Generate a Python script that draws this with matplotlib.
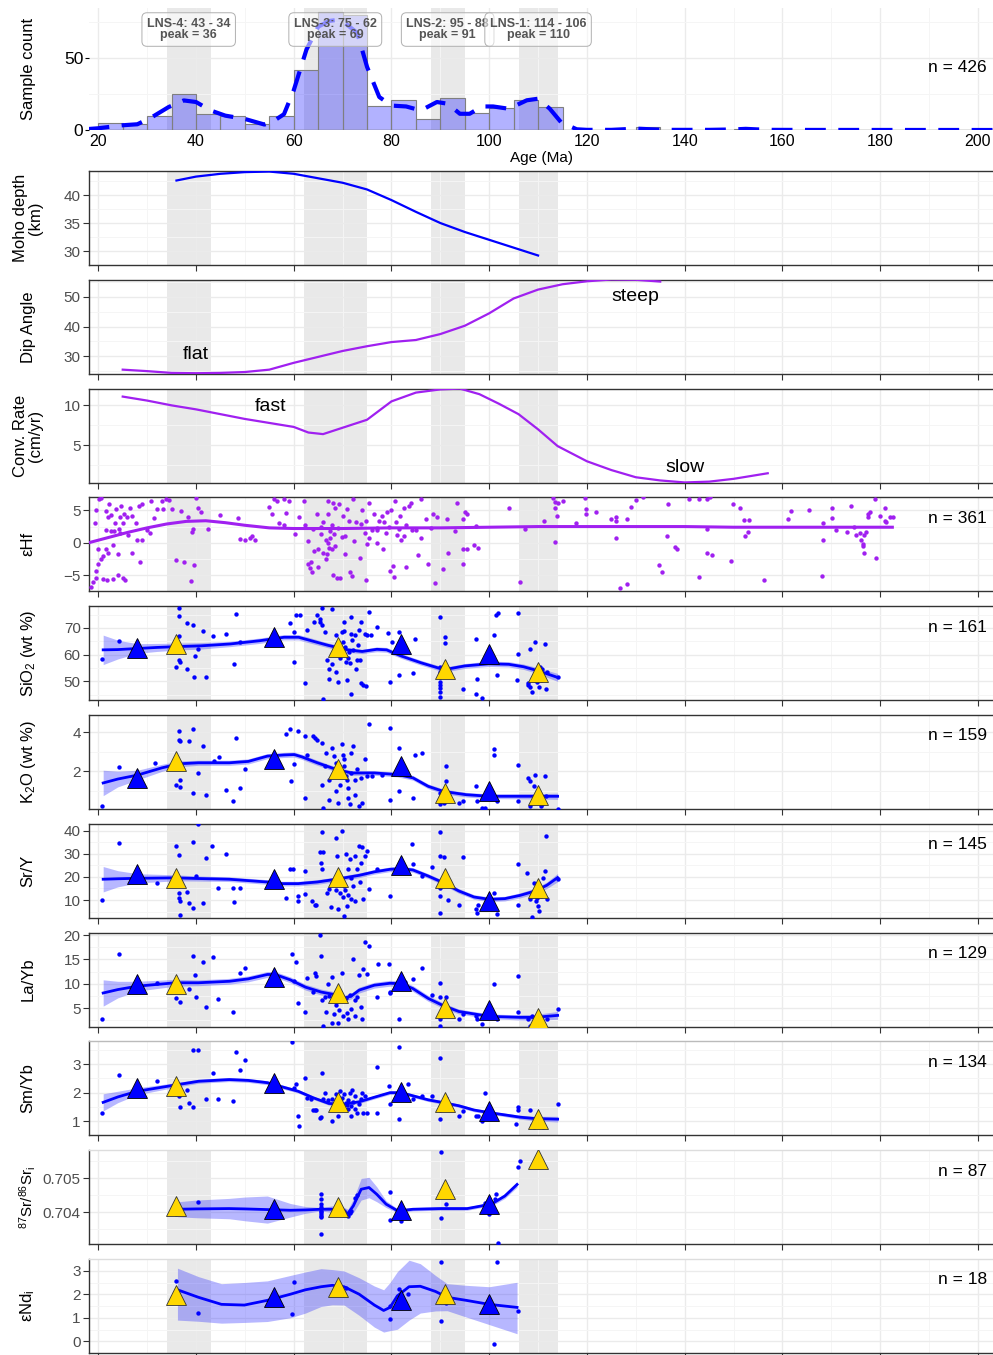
import matplotlib.pyplot as plt
import numpy as np

plt.rcParams['font.family'] = ['Liberation Sans', 'DejaVu Sans']
plt.rcParams['mathtext.fontset'] = 'custom'
plt.rcParams['mathtext.rm'] = 'Liberation Sans'
plt.rcParams['mathtext.it'] = 'Liberation Sans:italic'

# ---------------- data ----------------
bands = [(34, 43), (62, 75), (88, 95), (106, 114)]
band_text = ['LNS-4: 43 - 34\npeak = 36', 'LNS-3: 75 - 62\npeak = 69',
             'LNS-2: 95 - 88\npeak = 91', 'LNS-1: 114 - 106\npeak = 110']
band_text_x = [38.5, 68.5, 91.5, 110]

hist_left = [20, 25, 30, 35, 40, 45, 50, 55, 60, 65, 70, 75, 80, 85, 90, 95, 100, 105, 110, 130, 150]
hist_count = [5, 4, 10, 25, 11, 10, 4, 10, 42, 82, 80, 17, 21, 8, 22, 12, 15, 21, 16, 2, 1]
dens_x = [18, 20, 25, 28, 31, 34.4, 37.5, 40, 43, 46, 50, 54, 55.5, 58, 60, 62.6, 65, 67.3, 69.6, 73, 75, 77.5,
          80, 83, 86, 89.3, 91.5, 94, 96, 98.5, 100.8, 104, 107.7, 110, 112.4, 114.7, 117.9, 120, 125, 128,
          130.5, 133, 136, 145, 150, 152.5, 155, 158, 165, 203]
dens_y = [0.7, 1.2, 3.3, 4, 9, 16, 20.6, 19.5, 13.6, 10, 7.7, 3.8, 5.4, 11, 27.7, 56, 72, 76, 77, 67.6, 44, 23,
          17, 16.4, 13.6, 19.5, 18.3, 11.3, 11.3, 16.4, 16.4, 14.8, 20.7, 21.8, 14.8, 5.4, 0.5, 0.1, 0.1, 0.6,
          0.9, 0.5, 0.1, 0.1, 0.4, 0.8, 0.4, 0.1, 0.05, 0]

moho_x = [36, 40, 45, 50, 55, 60, 65, 70, 75, 80, 85, 90, 95, 100, 105, 110]
moho_y = [42.6, 43.3, 43.8, 44.1, 44.2, 43.8, 43.0, 42.2, 41.0, 39.1, 37.0, 35.0, 33.4, 32.0, 30.6, 29.2]

dip_x = [25, 30, 35, 40, 45, 50, 55, 60, 65, 70, 75, 80, 85, 90, 95, 100, 105, 110, 115, 120, 125, 130, 135]
dip_y = [25.5, 25.0, 24.4, 24.3, 24.4, 24.7, 25.5, 27.8, 29.8, 31.8, 33.4, 34.8, 35.5, 37.5, 40.3, 44.5,
         49.5, 52.5, 54.3, 55.3, 55.9, 55.8, 55.2]

conv_x = [25, 30, 35, 40, 45, 50, 55, 60, 63, 66, 70, 75, 80, 85, 90, 94, 98, 102, 106, 110, 114, 120, 125,
          130, 135, 140, 145, 150, 157]
conv_y = [11.1, 10.6, 10.0, 9.5, 8.9, 8.3, 7.8, 7.3, 6.6, 6.4, 7.2, 8.2, 10.5, 11.6, 12.0, 12.1, 11.4, 10.2,
          8.9, 7.0, 4.9, 3.0, 1.9, 1.0, 0.6, 0.35, 0.45, 0.8, 1.5]

hf_fit_x = [18, 22, 26, 30, 34, 38, 42, 46, 50, 55, 60, 70, 80, 90, 100, 110, 120, 130, 140, 150, 160, 170, 182.5]
hf_fit_y = [0.0, 0.8, 1.6, 2.3, 2.9, 3.3, 3.4, 3.1, 2.7, 2.3, 2.2, 2.2, 2.3, 2.3, 2.4, 2.5, 2.5, 2.5, 2.5, 2.4,
            2.4, 2.4, 2.4]
hf_pts = [(18.5, -6.8), (19, -6), (19.5, -5.5), (19.5, -4.3), (19.5, 5), (19.3, 3), (20, -1), (20, -3.3),
          (20.2, 6.8), (20.5, 6.9), (20.5, -2.5), (21, -5.6), (21, -2), (21.5, -1), (21.5, 2), (21.5, 4.9),
          (21.7, -5.7), (22, -1.5), (22, 3.9), (22.2, 6.0), (22.5, 1.8), (22.7, 4.3), (23, -0.4), (23, -5.6),
          (23.3, 1.8), (23.5, 3), (23.7, 5.2), (24, -1.8), (24, -4.9), (24.2, 2.1), (24.5, 4), (24.5, 1.5),
          (24.7, 5.6), (25, -5.5), (25, 3.0), (25.3, 4.4), (25.5, -5.8), (25.8, 4.0), (26, 1.2), (26.5, 5.4),
          (27, -1.6), (27, 4.1), (27.7, 3.1), (28, 0.4), (28.3, 5.6), (28.5, -2.9), (29, 0.5), (29, 6.0),
          (30, 2.0), (30.5, 1.5), (30.8, 6.4), (31.5, 3.8), (32, 5.2), (33, 6.5), (33.3, 5.2), (33.8, 6.8),
          (34.5, 6.6), (35, 5.2), (36, -2.6), (37, 4.9), (37.5, -3.0), (38.3, 4.0), (39, -5.9), (39.3, 2.1),
          (39.5, -3.4), (39.2, 1.6), (40, 6.9), (40.5, 5.4), (41, 4.7), (42.5, 2.2), (45, 4.3), (48.5, 3.8),
          (49, 0.6), (50, 0.4), (51, 0.8), (51.5, 1.0), (52, 0.5), (55, 5.5), (55.5, 4.4), (56, 6.8),
          (56.5, 6.4), (57, 3.0), (58, 2.8), (58, 6.8), (59, 6.5), (58.5, 4.6), (60.3, 1.3), (61, 3.9),
          (62, 6.5), (62.3, 2.8), (63, 0.2), (63, -3.2), (63.3, -3.9), (63.5, -3.0), (63.8, -4.5), (64, 2.2),
          (64.2, -1.2), (64.8, 4.4), (65, -1.0), (65, -3.8), (65.5, 1.3), (65.5, 2.5), (66, -1.5), (66, 3.2),
          (66.5, 0.5), (66.5, -2.5), (66.8, -1.8), (67, 0.0), (67, 6.5), (67, 4.4), (67.3, -0.8), (67.5, 1.8),
          (67.5, 0.8), (67.8, 2.8), (67.8, -0.9), (68, -4.9), (68, 6.1), (68.3, 1.3), (68.5, -0.5),
          (68.5, 5.3), (68.8, -5.5), (69, 2.3), (69.3, 6.0), (69.5, -5.4), (69.8, 0.9), (70, 4.2),
          (70.5, -1.7), (70.5, 1.0), (71, 5.2), (71.3, 3.4), (71.5, -4.5), (72, -5.1), (72.2, 6.7),
          (72.3, 0.3), (72.8, 3.2), (73.5, -2.3), (73.8, 2.9), (74, 5.0), (74.5, 1.5), (74.8, -5.7),
          (74.8, 3.4), (75, -0.2), (75.3, 0.8), (75.5, 6.2), (76, 1.9), (76.5, 4.5), (77, 1.9), (77, 2.3),
          (77, 0.0), (77.5, 3.3), (78, 4.2), (78.3, -1.0), (78.5, 3.2), (78.8, 1.5), (79, 4.8), (79.5, 2.4),
          (79.8, -4.3), (80, 5.1), (80.3, -3.6), (80.5, -5.3), (80.8, 6.5), (81, 3.2), (81.2, 1.2),
          (81.5, 2.2), (81.8, 4.2), (82, 0.5), (82.5, 5.3), (82.5, 1.1), (83, 2.8), (83, -3.7), (83.5, 5.7),
          (84, 6.2), (84.3, 1.9), (85, 2.0), (85.5, -1.9), (86, 6.8), (86, 0.8), (87, 3.6), (87.5, -3.3),
          (88, 2.3), (88.4, 4.5), (88.9, -6.2), (89.4, 3.9), (90.5, -4.0), (91.3, 3.6), (91.5, -1.6),
          (93, 1.8), (93.5, 6.1), (94.6, -3.2), (94.6, 3.6), (94.7, -1.0), (95.1, 4.7), (95.4, 4.5),
          (95.4, -1.0), (96.8, -0.4), (97.3, 2.6), (97.7, -0.8), (104.1, 5.3), (107.4, 2.1), (106.4, -6.1),
          (111.3, 3.4), (113, 6.9), (113.5, 6.3), (114, 6.1), (115, 6.5), (113.5, 5.4), (113.9, 4.2),
          (113.4, 0.1), (117.7, 3.0), (119.6, 6.9), (119.9, 5.2), (119.8, 4.5), (121.9, 4.7), (125, 3.6),
          (125.9, 3.9), (125.9, 3.4), (128.1, 3.6), (125.9, 0.8), (129.1, 5.5), (130, 6.6), (131.5, 7.0),
          (126.7, -6.9), (128.2, -6.4), (134.7, -3.5), (135.3, -4.5), (136.4, 1.1), (136.5, 6.0),
          (138, -0.6), (138.5, -1.0), (140.8, 6.8), (142.9, 6.8), (144.6, 6.8), (145.1, 7.0), (144.6, 2.1),
          (144.6, -1.6), (145.5, -1.9), (143, -5.3), (149.8, 6.0), (151.3, 5.4), (152.2, 3.5), (153.1, 3.5),
          (152.4, 1.1), (152.9, 1.6), (149.4, -2.8), (156.2, -5.8), (161.2, 3.7), (161.8, 4.9), (165.5, 5.0),
          (168.3, 3.0), (168.3, 0.4), (168.2, -5.1), (170.2, 5.3), (170.2, 3.8), (170.9, 2.0), (174, 5.7),
          (173.2, 1.6), (174.6, 2.4), (175, 1.2), (175.8, 1.5), (176, 0.5), (176.4, -0.2), (176.4, -0.5),
          (176.6, -1.6), (176.8, 1.2), (177.2, 1.7), (177.5, 4.5), (178, 4.7), (177.5, 4.0), (178.9, 6.7),
          (179.2, -2.4), (179.9, 4.1), (181.1, 5.4), (180.9, 3.3), (181.3, 3.2), (182.1, 3.9), (182.6, 4.0)]

blue_tri_x = [28, 56, 82, 100]
yellow_tri_x = [36, 69, 91, 110]

sio2_fit_x = [21, 24, 28, 32, 36, 41, 47, 53, 58, 61, 63, 67, 71, 74, 77, 79, 82, 86, 90, 92, 95, 100, 104,
              107, 110, 114]
sio2_fit = [61.8, 61.9, 62.3, 62.7, 63.0, 63.3, 64.0, 65.2, 66.5, 66.5, 65.5, 63.5, 61.8, 61.2, 62.0, 61.8,
            59.5, 57.0, 54.8, 54.8, 55.8, 56.6, 56.4, 55.5, 54.0, 51.5]
sio2_ci = [5.5, 3.5, 1.8, 1.5, 1.3, 1.2, 1.0, 1.0, 1.0, 1.0, 1.0, 0.9, 0.9, 0.8, 0.9, 0.9, 0.9, 0.9, 0.9, 0.9,
           0.9, 1.0, 1.0, 1.0, 1.1, 1.5]
sio2_blue = [62.5, 66.6, 64.0, 60.3]
sio2_yellow = [63.8, 62.7, 54.7, 53.4]
sio2_pts = [(20.8, 58.3), (24.2, 65), (36.6, 77.5), (36.6, 74.3), (36.6, 66.9), (36.6, 58), (36.8, 57.1),
            (36, 55.5), (38.2, 54.8), (38.2, 72), (39.3, 71.2), (39.5, 51.5), (39.7, 59.4), (40.5, 62),
            (41.5, 68.8), (42.1, 51.6), (43.4, 67), (46.2, 67.9), (48.1, 75.3), (47.7, 56.5), (49.1, 64.8),
            (59.3, 71.7), (60.1, 57.3), (60.1, 68.5), (60.5, 74.7), (61.3, 74.7), (62.4, 49.5), (62.8, 69.1),
            (64.2, 72.2), (64.8, 74.7), (65.4, 72.2), (65.4, 73.5), (65.7, 71.0), (65.7, 77.5), (65.9, 43.3),
            (66.4, 68.5), (66.8, 58), (67.2, 51.1), (67.2, 54.8), (67.8, 77.2), (67.9, 56.5), (68.6, 67.3),
            (68.7, 53.6), (68.9, 61), (69.1, 49.9), (69.5, 58.6), (69.9, 68.5), (70.1, 64.8), (70.3, 68.8),
            (70.3, 72.2), (70.4, 62.9), (70.7, 57.3), (70.9, 50.5), (71.1, 58.6), (71.3, 61), (71.5, 57),
            (71.7, 74.1), (71.7, 45.5), (71.8, 67.9), (72, 65.4), (72.2, 61.7), (72.6, 67.3), (72.8, 54.8),
            (73, 58), (73.2, 63.5), (73.4, 69.1), (73.6, 58), (73.8, 49.3), (73.8, 72.2), (74.2, 48.6),
            (74.6, 67.9), (74.8, 48.3), (75, 67.3), (75.4, 76), (75.8, 67.3), (77, 70.4), (79.3, 68.1),
            (79.8, 49.9), (80.1, 64.8), (81.6, 68.5), (81.6, 52.4), (84.4, 53), (84.8, 66), (90, 73.9),
            (90, 55.5), (90, 53.6), (90, 51.7), (90, 49.9), (90, 48.6), (90, 47.4), (90, 46.1), (90, 44.3),
            (91, 66.6), (91, 64.4), (94.7, 47), (97.3, 66), (97.5, 51.1), (97.3, 45.5), (98.5, 43.7),
            (98.9, 58), (100.9, 67.3), (101.4, 74.7), (101.8, 75.6), (101.6, 52.4), (105.7, 50.5),
            (105.9, 60.4), (105.9, 75.6), (108.3, 62.3), (107.9, 49.3), (108, 48.6), (108.3, 48), (108.7, 46.1),
            (109.3, 64.8), (109.3, 50.5), (109.8, 49.9), (110.2, 48), (110.4, 55.5), (110.5, 50.5),
            (110.9, 54.8), (111, 50.8), (111.4, 63.8), (111.6, 47), (111.8, 53.6), (114, 51.5)]

k2o_fit_x = [21, 24, 28, 33, 36.6, 40.5, 46.8, 50.7, 54.6, 58, 60.1, 61.7, 64.8, 68.7, 71.8, 76.5, 81.2, 84.4,
             87.5, 90.6, 95.3, 100, 105.5, 111, 114]
k2o_fit = [1.4, 1.6, 1.8, 2.17, 2.38, 2.43, 2.43, 2.5, 2.77, 2.83, 2.85, 2.73, 2.43, 2.09, 1.91, 1.91, 1.83,
           1.66, 1.23, 0.97, 0.8, 0.72, 0.72, 0.72, 0.72]
k2o_ci = [0.65, 0.4, 0.25, 0.18, 0.15, 0.13, 0.13, 0.13, 0.13, 0.13, 0.13, 0.13, 0.13, 0.12, 0.12, 0.12, 0.12,
          0.12, 0.12, 0.12, 0.12, 0.12, 0.13, 0.14, 0.16]
k2o_blue = [1.66, 2.6, 2.26, 0.97]
k2o_yellow = [2.5, 2.1, 0.9, 0.8]
k2o_pts = [(20.8, 0.2), (24.2, 2.2), (31.7, 2.4), (36.6, 4.05), (36.6, 3.6), (36.8, 3.55), (36, 1.3),
           (36.8, 1.57), (36.8, 1.2), (38.6, 3.55), (39.3, 4.15), (39.3, 0.9), (40.5, 1.9), (41.5, 3.3),
           (42.1, 0.8), (43.6, 2.5), (44.8, 2.7), (46.2, 1.03), (47.6, 0.46), (48.1, 3.7), (49, 1.15),
           (50, 2.09), (58.5, 3.9), (59.3, 4.15), (59.5, 1.5), (60.1, 2.35), (60.9, 4.05), (62.4, 0.63),
           (62.4, 3.8), (62.8, 2.85), (64, 3.8), (64.4, 3.7), (64.8, 3.6), (65.7, 3.45), (65.7, 1.3),
           (65.9, 0.12), (66.4, 2.25), (66.5, 2.95), (67.2, 1.57), (67.3, 0.55), (67.9, 3.2), (68.3, 2.77),
           (68.6, 2.43), (68.7, 0.97), (69.1, 0.38), (69.4, 1.91), (69.5, 1.3), (69.9, 3.37), (70.1, 2.85),
           (70.3, 2.6), (70.3, 2.25), (70.7, 1.75), (70.9, 1.57), (71.1, 1.15), (71.2, 0.63), (71.5, 0.3),
           (71.7, 2.95), (71.8, 1.91), (72.2, 3.28), (72.5, 0.8), (72.6, 1.57), (73, 2.09), (73.4, 0.2),
           (73.8, 1.66), (74, 0.38), (74.6, 2.6), (75, 1.74), (75.4, 4.39), (76.1, 1.74), (78.1, 1.83),
           (79.7, 4.22), (79.8, 0.55), (81.6, 3.2), (81.6, 0.97), (84.4, 0.63), (84.8, 2.85), (86.3, 2.94),
           (90, 0.9), (90, 0.55), (90, 0.3), (90.7, 0.38), (91.1, 2.29), (91.1, 1.49), (93.8, 0.38),
           (94.7, 0.46), (97.3, 1.23), (97.5, 0.46), (98.5, 0.12), (99.2, 0.12), (100.9, 3.15), (100.9, 2.85),
           (101.6, 0.46), (105.9, 2.34), (105.9, 0.46), (107.9, 1.66), (108.3, 1.49), (108.3, 0.2),
           (109.1, 1.23), (109.3, 1.83), (110.2, 0.55), (110.5, 0.2), (110.9, 0.3), (111.4, 1.78),
           (111.6, 0.72), (114, 0.08)]

sry_fit_x = [21, 24, 28, 35.8, 40.5, 46.8, 54.6, 57.7, 60.9, 64.8, 68.7, 73.4, 76.5, 79.7, 82, 84.4, 87.5, 90.6,
             93.8, 96.9, 100, 103.2, 106.3, 109.4, 111.8, 114]
sry_fit = [19, 19.2, 19.4, 19.6, 19.3, 19, 17.8, 17.1, 17.1, 17.8, 19, 20.7, 22.2, 23.3, 23.6, 23, 20.4, 17.5,
           13.9, 11.3, 10.3, 10.6, 12, 13.9, 16.4, 19.7]
sry_ci = [5.5, 3.5, 2.0, 1.3, 1.1, 1.0, 1.0, 1.0, 1.0, 1.0, 1.0, 1.0, 1.0, 1.0, 1.0, 1.0, 1.0, 1.0, 1.0, 1.0,
          1.0, 1.0, 1.1, 1.2, 1.4, 1.8]
sry_blue = [21.4, 19.0, 25.2, 9.6]
sry_yellow = [19.4, 20.0, 19.7, 15.4]
sry_pts = [(20.8, 10), (24.2, 34.6), (32, 17.2), (36, 33.5), (36.6, 29.4), (36.6, 11), (36.8, 9.6),
           (36.6, 13.2), (36.8, 3.5), (38.2, 13.5), (38.6, 8.6), (39.3, 35.2), (39.3, 6.7), (39.9, 20.4),
           (41.5, 8.8), (42.1, 28.1), (40.5, 42.8), (43.3, 33.5), (44.6, 15.4), (46.2, 30.1), (47.7, 9.1),
           (47.6, 15.4), (49, 15.4), (58.5, 10.7), (59.3, 23.3), (59.9, 23.6), (60.9, 11.7), (60.9, 9.6),
           (62.4, 22.6), (62.4, 12.5), (63.8, 9.6), (64.4, 7.7), (64.6, 7.7), (65.4, 30.6), (65.6, 26.2),
           (65.7, 39.3), (65.7, 23.6), (65.9, 30.6), (66.8, 13.2), (67.2, 14.6), (67.6, 7.1), (67.9, 17.5),
           (68.6, 36.7), (68.7, 14.3), (68.9, 29.1), (69.1, 6), (69.5, 12.9), (69.9, 40), (70.1, 11.4),
           (70.3, 16.1), (70.3, 3), (70.4, 14.3), (70.7, 29.9), (70.9, 7.4), (71.1, 12), (71.2, 23.3),
           (71.5, 27.7), (71.7, 10.3), (71.8, 19.7), (72.2, 16.1), (72.5, 29.1), (72.6, 9.6), (73, 23.3),
           (73.4, 33.5), (73.6, 17.8), (73.8, 26.2), (74, 32.8), (74.2, 10.3), (74.6, 29.1), (75, 31.3),
           (75.4, 14.6), (77, 23.3), (79.8, 11.7), (84.2, 34.2), (84.4, 25.5), (86.3, 20.4), (88.3, 24.5),
           (90, 39.3), (90, 29.1), (90, 15.4), (90, 11.7), (90, 4.5), (90.7, 28.7), (91.1, 17.5), (91.5, 10),
           (93.8, 7.7), (94.7, 28.7), (97.3, 6.2), (97.5, 4.2), (97.7, 7.7), (100.9, 13.2), (101.6, 3.8),
           (105.9, 25.5), (105.9, 7.7), (107.7, 21.9), (108.3, 10.3), (108.7, 2.5), (109.1, 17.5),
           (109.5, 9.6), (109.8, 11), (110, 7.4), (110.2, 5.2), (110.6, 11.7), (111, 19.7), (111.4, 22.6),
           (111.6, 37.8), (111.8, 10.3), (114, 19.3)]

layb_fit_x = [21, 24, 28, 35.8, 40.5, 46.8, 50.7, 54.6, 56.2, 59.3, 62.4, 65.6, 68.7, 70.3, 71.8, 73.4, 76.5,
              79.7, 82, 84.4, 87.5, 90.6, 93.8, 96.9, 100, 103.2, 106.3, 109.4, 114]
layb_fit = [8.1, 8.8, 9.5, 10.2, 10.2, 10.5, 11, 11.9, 11.9, 10.8, 9.3, 8.3, 7.7, 7.0, 7.5, 8.7, 9.7, 10.1, 10,
            9, 7, 5.5, 4.3, 3.8, 3.3, 3.2, 3.1, 3.1, 3.5]
layb_ci = [2.7, 1.7, 1.0, 0.7, 0.6, 0.6, 0.6, 0.6, 0.6, 0.6, 0.6, 0.6, 0.6, 0.6, 0.6, 0.6, 0.6, 0.6, 0.6, 0.6,
           0.6, 0.55, 0.5, 0.5, 0.5, 0.5, 0.55, 0.6, 0.8]
layb_blue = [10.0, 11.3, 10.5, 4.7]
layb_yellow = [10.0, 8.0, 5.0, 2.9]
layb_pts = [(20.8, 2.7), (24.2, 16.1), (32, 10.1), (36, 7), (36.8, 6.3), (36.6, 9), (38.6, 8.9), (39.3, 15.7),
            (39.7, 11.7), (39.9, 7.3), (41.5, 14.5), (42.1, 5.2), (43.4, 15.5), (44.6, 6.8), (47.6, 4.1),
            (49, 12.3), (50.1, 13.3), (59.6, 16.1), (60.5, 14.5), (60.1, 10.5), (60.9, 6), (62.4, 4.1),
            (62.8, 11.2), (64, 8.3), (64.4, 12.3), (64.6, 11.5), (65.4, 20), (65.6, 15.7), (65.7, 6.7),
            (65.9, 1.4), (66.4, 7.3), (66.5, 4.3), (67, 10), (67.3, 7.5), (67.8, 1.9), (67.9, 11.3),
            (68.3, 3.7), (68.7, 5.7), (69.1, 1.9), (69.3, 4.7), (69.5, 6.7), (69.9, 12.3), (70.1, 3.3),
            (70.7, 7), (70.9, 4), (71.1, 2.8), (71.5, 7.7), (71.8, 4.8), (72.2, 15), (72.5, 6.7), (72.6, 3.3),
            (73, 7.3), (73.4, 11.7), (73.8, 5.3), (74, 2.8), (74.2, 13), (74.6, 18.5), (75, 12), (75.4, 17.7),
            (77, 7.3), (77.3, 14), (79.5, 14.1), (79.8, 8.3), (79.8, 8), (81.6, 2.7), (82.8, 10.3), (84.4, 11),
            (86.3, 13.3), (88.3, 7.7), (90, 10.1), (90, 7.3), (90, 2.8), (90, 1.4), (91.1, 7.3), (93.8, 2.8),
            (94.7, 3.7), (97.3, 3.3), (97.5, 2.7), (98.5, 1.7), (100.9, 10), (101.6, 2.7), (105.9, 11.5),
            (105.9, 4.1), (107.9, 2.8), (108.3, 1.4), (108.7, 3.3), (109.1, 2), (110.2, 2.7), (111, 1.4),
            (111.8, 2.7), (114, 4.8)]

smyb_fit_x = [21, 24, 28, 35.8, 40.5, 46.8, 50.7, 54.6, 57.7, 60.9, 64, 67.2, 70.3, 73.4, 76.5, 79.7, 82, 84.4,
              87.5, 90.6, 93.8, 96.9, 100, 103.2, 106.3, 109.4, 114]
smyb_fit = [1.66, 1.85, 2.05, 2.27, 2.4, 2.46, 2.43, 2.35, 2.2, 2.05, 1.82, 1.62, 1.6, 1.68, 1.84, 2.0, 2.0,
            1.89, 1.75, 1.65, 1.54, 1.39, 1.3, 1.22, 1.14, 1.09, 1.07]
smyb_ci = [0.3, 0.2, 0.12, 0.08, 0.07, 0.07, 0.07, 0.07, 0.07, 0.06, 0.06, 0.06, 0.06, 0.06, 0.06, 0.06, 0.06,
           0.06, 0.06, 0.06, 0.06, 0.06, 0.06, 0.06, 0.07, 0.08, 0.1]
smyb_blue = [2.16, 2.35, 2.02, 1.35]
smyb_yellow = [2.25, 1.66, 1.66, 1.09]
smyb_pts = [(20.8, 1.3), (24.2, 2.61), (32, 2.4), (36.6, 2.05), (36.6, 1.89), (36.8, 1.5), (38.2, 2.11),
            (38.6, 1.62), (39.3, 1.5), (39.3, 3.5), (40.5, 3.5), (42.1, 1.78), (43.4, 2.7), (44.6, 1.78),
            (47.6, 1.7), (48.1, 3.42), (49, 2.81), (50.1, 3.13), (59.6, 3.78), (60.1, 2.18), (60.5, 2.32),
            (60.9, 1.19), (61, 0.82), (62.3, 2.5), (62.8, 1.82), (63.6, 1.78), (64, 1.39), (64.4, 1.39),
            (64.6, 1.39), (65.4, 1.11), (65.6, 1.14), (65.7, 2.7), (65.9, 1.78), (66.4, 2), (67, 1.73),
            (67.8, 1), (67.9, 1.78), (68.6, 1.95), (69.1, 1.17), (69.5, 2.05), (69.9, 1.82), (70.3, 1.95),
            (70.7, 1.62), (70.9, 1.57), (71.1, 1.43), (71.2, 1.73), (71.5, 2), (71.7, 1.19), (71.8, 1.54),
            (72, 2.11), (72.2, 1.68), (72.5, 1.43), (72.6, 1.89), (73, 1.3), (73.4, 1.6), (73.8, 1.78),
            (74, 2), (74.2, 1.3), (74.6, 1.89), (75, 1.3), (77, 2.91), (77, 1.3), (79.5, 2.22), (79.8, 1.6),
            (81.6, 3.61), (81.6, 1.09), (83.4, 2.29), (84.4, 1.78), (86.3, 1.89), (88.3, 1.89), (90, 3.22),
            (90, 1.39), (90, 1.09), (91.1, 1.82), (93.8, 1.17), (94.7, 1.35), (97.3, 1.19), (97.7, 1.17),
            (98.5, 1), (99.1, 2), (105.9, 1.39), (105.9, 1.5), (105.4, 0.89), (108.3, 1.39), (108.7, 0.85),
            (109.1, 0.8), (110.2, 0.92), (111, 0.8), (114, 1.6)]

sr_fit_x = [36.2, 40, 46.8, 50, 54.6, 59.3, 62.4, 65.6, 67.9, 69.5, 71.1, 72.2, 73.8, 75.4, 77, 78.9, 81.3,
            84.4, 90, 95.5, 98.5, 100.9, 103.2, 105.7]
sr_fit = [0.70409, 0.70410, 0.70411, 0.70410, 0.70408, 0.70406, 0.70407, 0.70409, 0.70409, 0.70404, 0.70397,
          0.70419, 0.70468, 0.70473, 0.70453, 0.70424, 0.70404, 0.70409, 0.70411, 0.70411, 0.70419, 0.70428,
          0.70448, 0.70482]
sr_ci = [0.00022, 0.00026, 0.0003, 0.00035, 0.0004, 0.0002, 0.0001, 0.00005, 0.0001, 0.00016, 0.00012, 0.0002,
         0.00032, 0.0003, 0.00022, 0.0001, 0.00006, 0.00005, 0.00005, 0.00005, 0.00005, 0.00006, 0.00007,
         0.00008]
sr_blue = [0.70409, 0.70406, 0.70424]
sr_yellow = [0.70419, 0.70417, 0.70470, 0.70558]
sr_pts = [(36, 0.70396), (40.5, 0.7043), (65.5, 0.70455), (65.5, 0.7044), (65.5, 0.70425), (65.5, 0.70415),
          (65.5, 0.70405), (65.5, 0.704), (65.5, 0.70395), (65.5, 0.7039), (65.5, 0.70385), (65.5, 0.70335),
          (69.1, 0.70414), (70.3, 0.70404), (70.7, 0.70394), (71.1, 0.70389), (71.5, 0.70399), (71.8, 0.70404),
          (72.6, 0.70443), (73, 0.7045), (79.8, 0.7046), (79.8, 0.70376), (81.9, 0.70375), (90.1, 0.70578),
          (91.1, 0.70424), (90.1, 0.70384), (99.2, 0.70428), (99.6, 0.70421), (99.8, 0.70409), (100.2, 0.70401),
          (100.4, 0.70414), (100.6, 0.70424), (100, 0.70394), (99.4, 0.70404), (101.3, 0.70453),
          (101.1, 0.70438), (101.8, 0.70309), (105.9, 0.70534), (106.3, 0.70551)]

end_fit_x = [36.2, 40.5, 45.2, 49.9, 54.6, 59.3, 62.4, 65.6, 67.9, 70.3, 73.4, 76.5, 78.4, 79.7, 81.2, 83.6,
             85.9, 89, 91.4, 95.3, 100, 105.7]
end_fit = [2.19, 1.87, 1.57, 1.54, 1.74, 2.0, 2.19, 2.32, 2.38, 2.32, 2.0, 1.54, 1.31, 1.44, 1.93, 2.32, 2.34,
           2.12, 1.87, 1.74, 1.57, 1.44]
end_hi = [3.11, 2.75, 2.45, 2.5, 2.57, 2.8, 2.95, 3.09, 3.05, 2.99, 2.7, 2.35, 2.19, 2.5, 2.96, 3.45, 3.3, 2.8,
          2.45, 2.38, 2.32, 2.51]
end_lo = [0.9, 0.85, 0.77, 0.8, 0.84, 1.0, 1.2, 1.48, 1.55, 1.54, 1.1, 0.6, 0.39, 0.45, 0.51, 0.9, 1.2, 1.29,
          1.3, 1.03, 0.71, 0.32]
end_blue = [1.9, 1.74, 1.57]
end_yellow = [1.96, 2.29, 2.03]
end_pts = [(36, 2.55), (40.5, 1.22), (59.6, 1.18), (60.1, 2.51), (70.7, 2.25), (79.8, 0.93), (79.8, 1.52),
           (81.6, 2.21), (83.4, 2.0), (90.1, 3.37), (91.1, 1.61), (90.1, 0.88), (101.6, 3.37), (100.9, -0.1),
           (105.9, 1.29)]

# ---------------- layout ----------------
W, H = 993, 1355
L = 89
XLIM = (18.1, 203.1)
PURPLE = '#A020F0'
fig = plt.figure(figsize=(W / 100, H / 100), dpi=100)


def add_ax(top, bottom):
    return fig.add_axes([L / W, 1 - bottom / H, (W - L) / W, (bottom - top) / H])


def ylabel(top, bottom, text, size=12):
    fig.text(28 / W, 1 - (top + bottom) / 2 / H, text, rotation=90, ha='center', va='center',
             fontsize=size, linespacing=1.0)


def setup(ax, ylim, yticks, top, bottom, label, lsize=12, top_col='#333333'):
    ax.set_xlim(*XLIM)
    ax.set_ylim(*ylim)
    ax.set_xticks(np.arange(20, 201, 20))
    ax.set_xticks(np.arange(30, 201, 20), minor=True)
    ax.set_yticks(yticks)
    step = yticks[1] - yticks[0]
    ax.set_yticks(np.arange(yticks[0] - step / 2, ylim[1], step), minor=True)
    ax.grid(which='major', color='#EBEBEB', lw=1.0)
    ax.grid(which='minor', color='#F5F5F5', lw=0.7)
    ax.set_axisbelow(True)
    ax.tick_params(axis='x', which='major', length=4, color='#333333', labelbottom=False)
    ax.tick_params(axis='y', which='major', length=4, color='#333333', labelsize=11, labelcolor='#4D4D4D',
                   pad=2)
    ax.tick_params(which='minor', length=0)
    for s in ax.spines.values():
        s.set_color('#333333')
        s.set_linewidth(1.0)
    ax.spines['top'].set_color(top_col)
    ax.spines['right'].set_visible(False)
    for a, b in bands:
        ax.axvspan(a, b, color='grey', alpha=0.17, lw=0, zorder=0.5)
    ylabel(top, bottom, label, lsize)


def n_label(ax, text, y=0.777):
    ax.text(0.993, y, text, transform=ax.transAxes, ha='right', va='center', fontsize=12.5)


def geo_panel(ax, pts, fx, fit, lo, hi, blue, yellow, bx=blue_tri_x, yx=yellow_tri_x):
    ax.fill_between(fx, lo, hi, color='#3333FF', alpha=0.35, lw=0, zorder=2)
    p = np.array(pts)
    ax.scatter(p[:, 0], p[:, 1], s=10, color='#0000FF', lw=0, zorder=3)
    ax.plot(fx, fit, color='#0000FF', lw=2.0, zorder=4)
    ax.plot(bx[:len(blue)], blue, ls='none', marker='^', ms=14, mfc='#0000FF', mec='black', mew=0.6, zorder=5)
    ax.plot(yx[:len(yellow)], yellow, ls='none', marker='^', ms=14, mfc='#FFD700', mec='#333333', mew=0.6,
            zorder=5)


# histogram
ax = add_ax(8, 130)
ax.set_xlim(*XLIM)
ax.set_ylim(0, 85)
for a, b in bands:
    ax.axvspan(a, b, color='grey', alpha=0.17, lw=0, zorder=0.5)
ax.bar(hist_left, hist_count, width=5, align='edge', facecolor=(0, 0, 1, 0.3), edgecolor='#7F7F7F', lw=0.8,
       zorder=2)
ax.axhline(0, color='#7F7F7F', lw=1.0, zorder=2)
ax.plot(dens_x, dens_y, color='#0000FF', lw=3.0, dashes=(5.0, 3.0), zorder=3)
ax.set_xticks(np.arange(20, 201, 20))
ax.set_xticks(np.arange(30, 201, 20), minor=True)
ax.set_yticks([0, 50])
ax.set_yticks([25, 75], minor=True)
ax.grid(which='major', color='#EBEBEB', lw=1.0)
ax.grid(which='minor', color='#F5F5F5', lw=0.7)
ax.set_axisbelow(True)
for s in ax.spines.values():
    s.set_visible(False)
ax.tick_params(axis='x', which='major', length=0, labelsize=11.5, pad=3)
ax.tick_params(axis='y', which='major', length=3, labelsize=12.5, pad=1)
ax.tick_params(which='minor', length=0)
ax.set_xlabel('Age (Ma)', fontsize=11, labelpad=1)
for x, t in zip(band_text_x, band_text):
    ax.text(x, 70, t, ha='center', va='center', fontsize=9, fontweight='bold', color='#555555',
            linespacing=0.95, zorder=6,
            bbox=dict(boxstyle='round,pad=0.4', fc=(1, 1, 1, 0.55), ec='#B0B0B0', lw=0.7))
n_label(ax, 'n = 426', y=0.516)
ylabel(8, 130, 'Sample count')

tops = [171 + i * 108.8 for i in range(11)]
bots = [t + 94 for t in tops]

# Moho depth
ax = add_ax(tops[0], bots[0])
setup(ax, (29.1, 44.3), [30, 35, 40], tops[0], bots[0], 'Moho depth\n(km)')
ax.plot(moho_x, moho_y, color='#0000FF', lw=1.6, zorder=3)

# Dip angle
ax = add_ax(tops[1], bots[1])
setup(ax, (24.1, 55.8), [30, 40, 50], tops[1], bots[1], 'Dip Angle')
ax.plot(dip_x, dip_y, color=PURPLE, lw=1.6, zorder=3)
ax.text(40, 30.5, 'flat', ha='center', va='center', fontsize=14)
ax.text(130, 50.3, 'steep', ha='center', va='center', fontsize=14)

# Convergence rate
ax = add_ax(tops[2], bots[2])
setup(ax, (0.33, 12.1), [5, 10], tops[2], bots[2], 'Conv. Rate\n(cm/yr)')
ax.plot(conv_x, conv_y, color=PURPLE, lw=1.6, zorder=3)
ax.text(55.2, 9.8, 'fast', ha='center', va='center', fontsize=14)
ax.text(140, 2.2, 'slow', ha='center', va='center', fontsize=14)

# eHf
ax = add_ax(tops[3], bots[3])
setup(ax, (-6.9, 7.0), [-5, 0, 5], tops[3], bots[3], 'εHf')
p = np.array(hf_pts)
ax.scatter(p[:, 0], p[:, 1], s=10, color=PURPLE, lw=0, zorder=3)
ax.plot(hf_fit_x, hf_fit_y, color=PURPLE, lw=2.2, zorder=4)
n_label(ax, 'n = 361')

# SiO2
ax = add_ax(tops[4], bots[4])
setup(ax, (43.0, 78.1), [50, 60, 70], tops[4], bots[4], 'SiO$_2$ (wt %)')
geo_panel(ax, sio2_pts, sio2_fit_x, sio2_fit, np.subtract(sio2_fit, sio2_ci), np.add(sio2_fit, sio2_ci),
          sio2_blue, sio2_yellow)
n_label(ax, 'n = 161')

# K2O
ax = add_ax(tops[5], bots[5])
setup(ax, (0.07, 4.87), [2, 4], tops[5], bots[5], 'K$_2$O (wt %)')
geo_panel(ax, k2o_pts, k2o_fit_x, k2o_fit, np.subtract(k2o_fit, k2o_ci), np.add(k2o_fit, k2o_ci),
          k2o_blue, k2o_yellow)
n_label(ax, 'n = 159')

# Sr/Y
ax = add_ax(tops[6], bots[6])
setup(ax, (2.3, 43.0), [10, 20, 30, 40], tops[6], bots[6], 'Sr/Y')
geo_panel(ax, sry_pts, sry_fit_x, sry_fit, np.subtract(sry_fit, sry_ci), np.add(sry_fit, sry_ci),
          sry_blue, sry_yellow)
n_label(ax, 'n = 145')

# La/Yb
ax = add_ax(tops[7], bots[7])
setup(ax, (1.2, 20.5), [5, 10, 15, 20], tops[7], bots[7], 'La/Yb')
geo_panel(ax, layb_pts, layb_fit_x, layb_fit, np.subtract(layb_fit, layb_ci), np.add(layb_fit, layb_ci),
          layb_blue, layb_yellow)
n_label(ax, 'n = 129')

# Sm/Yb
ax = add_ax(tops[8], bots[8])
setup(ax, (0.78, 3.8), [1, 2, 3], tops[8], bots[8], 'Sm/Yb', top_col='#BBBBBB')
geo_panel(ax, smyb_pts, smyb_fit_x, smyb_fit, np.subtract(smyb_fit, smyb_ci), np.add(smyb_fit, smyb_ci),
          smyb_blue, smyb_yellow)
n_label(ax, 'n = 134')

# 87Sr/86Sr
ax = add_ax(tops[9], bots[9])
setup(ax, (0.70306, 0.70583), [0.704, 0.705], tops[9], bots[9], r'$^{87}$Sr/$^{86}$Sr$_{\mathrm{i}}$',
      lsize=11, top_col='#DDDDDD')
ax.set_yticklabels(['0.704', '0.705'])
geo_panel(ax, sr_pts, sr_fit_x, sr_fit, np.subtract(sr_fit, sr_ci), np.add(sr_fit, sr_ci),
          sr_blue, sr_yellow, bx=blue_tri_x[1:])
n_label(ax, 'n = 87')

# eNd
ax = add_ax(tops[10], bots[10])
setup(ax, (-0.13, 3.5), [0, 1, 2, 3], tops[10], bots[10], 'εNd$_{\\mathrm{i}}$', top_col='#DDDDDD')
geo_panel(ax, end_pts, end_fit_x, end_fit, end_lo, end_hi, end_blue, end_yellow, bx=blue_tri_x[1:])
n_label(ax, 'n = 18')

fig.savefig('out.png', dpi=100)
